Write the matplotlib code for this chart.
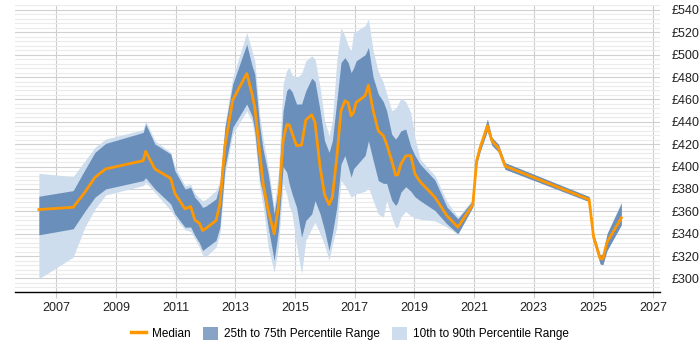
import matplotlib
matplotlib.use("Agg")
import matplotlib.pyplot as plt
from matplotlib.patches import Patch
from matplotlib.lines import Line2D
from matplotlib.ticker import MultipleLocator, FuncFormatter

plt.rcParams["font.family"] = ["Liberation Sans", "DejaVu Sans"]

# decimal years and percentile values (GBP per day)
years = [2006.41, 2007.56, 2007.95, 2008.29, 2008.65, 2009.91, 2009.99, 2010.30,
         2010.83, 2010.97, 2011.31, 2011.50, 2011.64, 2011.79, 2011.90, 2012.00,
         2012.35, 2012.48, 2012.65, 2012.91, 2013.38, 2013.56, 2013.65, 2013.82,
         2013.93, 2014.10, 2014.30, 2014.44, 2014.60, 2014.72, 2014.80, 2014.90,
         2015.05, 2015.22, 2015.36, 2015.56, 2015.67, 2015.84, 2015.99, 2016.14,
         2016.25, 2016.40, 2016.54, 2016.67, 2016.78, 2016.88, 2016.96, 2017.05,
         2017.35, 2017.46, 2017.62, 2017.79, 2017.96, 2018.07, 2018.24, 2018.37,
         2018.44, 2018.55, 2018.71, 2018.88, 2019.02, 2019.19, 2019.69, 2020.09,
         2020.46, 2020.96, 2021.09, 2021.20, 2021.45, 2021.60, 2021.82, 2022.04,
         2024.86, 2025.01, 2025.23, 2025.32, 2025.46, 2025.94]

p10 = [299.7, 319, 345.8, 362, 374.7, 383, 386, 377,
       360.7, 354.8, 343.5, 342, 335.5, 328, 321, 319.1,
       328, 340, 393, 429, 449.9, 440, 426, 380,
       365, 328, 305.7, 328, 385, 375, 365, 357.7,
       330, 304.2, 334, 345, 350.3, 339.9, 330, 316.1,
       330, 345.8, 387.5, 383, 378, 372.6, 374, 375.6,
       378, 381.5, 369.6, 357.7, 354.8, 369.6, 355, 345.8,
       345.8, 355, 360, 356, 354, 353, 351.5, 346,
       339.5, 364, 402, 413, 432, 419, 413, 397.6,
       368.7, 333, 313, 312.3, 325, 347.9]

p25 = [339, 344.4, 360, 372.6, 380, 387.5, 390, 380,
       366.7, 357.7, 345.8, 346, 338.4, 332, 325, 327,
       334, 345.8, 399.3, 435, 455.9, 445, 432, 387.5,
       375, 345.8, 316.1, 342.9, 400, 395, 385, 375.6,
       363.6, 336.9, 351.8, 357.7, 369.6, 357.7, 342.9, 325,
       339.9, 363.6, 402.3, 409.8, 400, 390.4, 398, 400.8,
       410, 423.1, 405.3, 387.5, 385, 385, 370, 365.2,
       368, 377.2, 382, 378, 373, 369.6, 360.7, 348.8,
       340, 364, 402, 413, 432, 419, 413, 397.6,
       368.7, 333, 313, 312.3, 325, 347.9]

median = [361.6, 363.6, 377, 390.4, 397.9, 405.3, 413.6, 397.9,
          389.5, 376.1, 362.2, 364.3, 352.4, 349.4, 342.9, 344.5,
          351.8, 366.7, 418.7, 459.4, 483.2, 464.8, 452.9, 411.3,
          384.5, 360.7, 339.9, 363.6, 423.1, 437.4, 437.4, 430,
          418.7, 419.3, 441.6, 446.3, 439.5, 399.3, 375, 366,
          372.6, 408.3, 449.9, 458.8, 457, 445.4, 448.4, 457.3,
          463.3, 472.8, 449.9, 432, 427.6, 420.2, 405.3, 392.5,
          392.5, 402.3, 409.5, 410, 393.4, 386.6, 372.6, 356.2,
          345.8, 366, 405.3, 416.6, 436.5, 423.1, 416.6, 400.5,
          370.5, 336.9, 317.6, 317.6, 332.4, 354.2]

p75 = [373.5, 378.5, 397, 412.7, 420.7, 430.5, 438, 420.2,
       411.3, 396.4, 380, 381.5, 372.6, 368, 363.6, 364.5,
       371.1, 384.5, 435, 473.7, 509.4, 490, 482.6, 435,
       415, 393.5, 357.7, 381.5, 449.9, 468, 470.2, 467,
       455.9, 456, 467.7, 479, 476, 450, 423.1, 412.7,
       423, 458.8, 493, 497.4, 493, 484, 488, 494.5,
       500, 506.4, 479.6, 465, 458, 450, 429, 424.6,
       427, 432, 433.5, 418, 410, 402.3, 388, 364,
       353.3, 369.6, 407, 420, 442.5, 426, 420, 403.5,
       373.2, 340, 321, 322, 340, 367.2]

p90 = [394, 391, 405, 417.2, 424.6, 433, 441, 423.1,
       412.7, 400, 383, 384, 376, 372, 369.6, 370.5,
       378.5, 387, 438, 479.6, 519.8, 503, 494.5, 445,
       425, 400, 363.6, 394, 473.7, 486, 488.5, 482,
       479.6, 483, 494.5, 499, 496, 470.7, 441, 427.6,
       441, 494.5, 524.2, 516.8, 508, 503.4, 519.8, 521,
       526, 531.7, 503.4, 485, 475, 465, 450, 452,
       455, 461.2, 458, 448, 426, 406.8, 392, 369,
       354.8, 371, 408, 420, 442.5, 426, 420, 403.5,
       373.2, 340, 321, 322, 340, 369]

orange = "#ff9800"
dark = "#6b8fbb"
light = "#cddded"

fig = plt.figure(figsize=(7, 3.5), dpi=100)
ax = fig.add_axes([0.021, 0.166, 0.922, 0.82])

ax.fill_between(years, p10, p90, color=light, linewidth=0, zorder=2)
ax.fill_between(years, p25, p75, color=dark, linewidth=0, zorder=3)
ax.plot(years, median, color=orange, linewidth=2, zorder=4)

ax.set_xlim(2005.6, 2027.24)
ax.set_ylim(288, 544.5)

ax.set_xticks(range(2007, 2028, 2))
ax.yaxis.set_major_locator(MultipleLocator(20))
ax.yaxis.set_minor_locator(MultipleLocator(4))
ax.yaxis.set_major_formatter(FuncFormatter(lambda v, p: "£%d" % v))
ax.yaxis.tick_right()

ax.grid(axis="x", color="#cccccc", linewidth=0.8, zorder=1)
ax.grid(axis="y", which="major", color="#d0d0d0", linewidth=0.8, zorder=1)
ax.grid(axis="y", which="minor", color="#ebebeb", linewidth=0.8, zorder=1)
ax.set_axisbelow(True)

for s in ["top", "left", "right"]:
    ax.spines[s].set_visible(False)
ax.spines["bottom"].set_color("#000000")
ax.spines["bottom"].set_linewidth(1)

ax.tick_params(axis="y", which="both", length=0, labelsize=9, pad=8, colors="#222222")
ax.tick_params(axis="x", length=4, color="#cccccc", labelsize=9, labelcolor="#222222")

handles = [Line2D([0], [0], color=orange, linewidth=2.5),
           Patch(facecolor="#87a3c6", edgecolor="none"),
           Patch(facecolor=light, edgecolor="none")]
labels = ["Median", "25th to 75th Percentile Range", "10th to 90th Percentile Range"]
fig.legend(handles, labels, loc="center", bbox_to_anchor=(0.5, 0.047), ncol=3,
           frameon=False, fontsize=8.5, handlelength=1.3, handleheight=1.3,
           columnspacing=1.0, handletextpad=0.5)

fig.savefig("out.png", dpi=100)
